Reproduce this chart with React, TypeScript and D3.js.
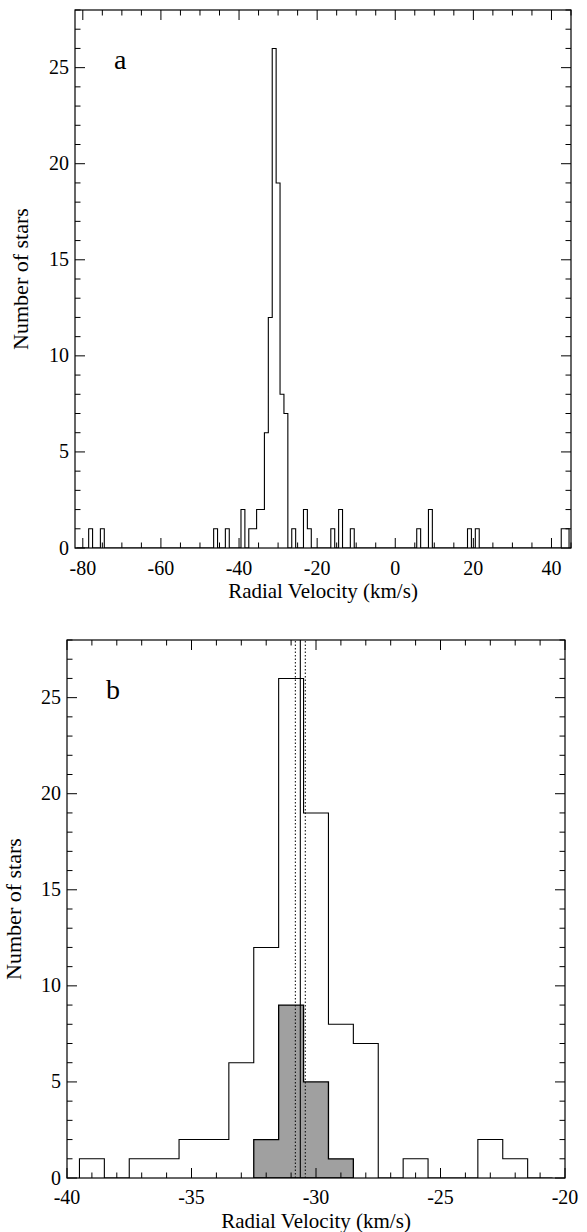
import * as d3 from "d3"

// Panel a: all stars, 1 km/s bins (bin centre -> count)
const aVelocities = [-78, -75, -46, -43, -39, -37, -36, -35, -34, -33, -32, -31, -30, -29, -28, -26, -23, -22, -16, -14, -11, 6, 9, 19, 21, 43, 44]
const aCounts = [1, 1, 1, 1, 2, 1, 1, 2, 2, 6, 12, 26, 19, 8, 7, 1, 2, 1, 1, 2, 1, 1, 2, 1, 1, 1, 1]

// Panel b: zoom on the cluster
const bVelocities = [-39, -37, -36, -35, -34, -33, -32, -31, -30, -29, -28, -26, -23, -22]
const bCounts = [1, 1, 1, 2, 2, 6, 12, 26, 19, 8, 7, 1, 2, 1]

// shaded subset
const memberVelocities = [-32, -31, -30, -29]
const memberCounts = [2, 9, 5, 1]

// mean velocity and its error
const meanVelocity = -30.63
const meanError = 0.2

const aXTicks = [-80, -60, -40, -20, 0, 20, 40]
const bXTicks = [-40, -35, -30, -25, -20]
const yTicks = [0, 5, 10, 15, 20, 25]

function stepPoints(vel: number[], counts: number[], lo: number, hi: number) {
  const pts: [number, number][] = [[lo - 0.5, 0]]
  for (let c = lo; c <= hi; c++) {
    const i = vel.indexOf(c)
    const n = i >= 0 ? counts[i] : 0
    pts.push([c - 0.5, n], [c + 0.5, n])
  }
  pts.push([hi + 0.5, 0])
  return pts
}

type PanelCfg = {
  id: string
  top: number
  left: number
  right: number
  bottom: number
  xDomain: [number, number]
  xMajor: number[]
  xMinorStep: number
  vel: number[]
  counts: number[]
  binRange: [number, number]
  letter: string
  yTitleX: number
  labelGap: number
  shaded?: boolean
}

const panels: PanelCfg[] = [
  {
    id: "a",
    top: 10,
    left: 75,
    right: 571,
    bottom: 548,
    xDomain: [-82, 45],
    xMajor: aXTicks,
    xMinorStep: 5,
    vel: aVelocities,
    counts: aCounts,
    binRange: [-81, 44],
    letter: "a",
    yTitleX: 28,
    labelGap: 27,
  },
  {
    id: "b",
    top: 640,
    left: 67,
    right: 565,
    bottom: 1178,
    xDomain: [-40, -20],
    xMajor: bXTicks,
    xMinorStep: 1,
    vel: bVelocities,
    counts: bCounts,
    binRange: [-39, -21],
    letter: "b",
    yTitleX: 21,
    labelGap: 26,
    shaded: true,
  },
]

function scales(p: PanelCfg) {
  const x = d3.scaleLinear().domain(p.xDomain).range([p.left, p.right])
  const y = d3.scaleLinear().domain([0, 28]).range([p.bottom, p.top])
  return { x, y }
}

function Marks({ p }: { p: PanelCfg }) {
  const { x, y } = scales(p)
  const clipId = "clip-" + p.id

  const line = d3
    .line<[number, number]>()
    .x((d) => x(d[0]))
    .y((d) => y(d[1]))
  const outline = line(stepPoints(p.vel, p.counts, p.binRange[0], p.binRange[1])) || ""

  const area = d3
    .area<[number, number]>()
    .x((d) => x(d[0]))
    .y0(y(0))
    .y1((d) => y(d[1]))
  const memberPts = stepPoints(memberVelocities, memberCounts, -32, -29)

  const xMinor = d3.range(
    Math.ceil(p.xDomain[0] / p.xMinorStep) * p.xMinorStep,
    p.xDomain[1] + 1e-9,
    p.xMinorStep
  )
  const yMinor = d3.range(0, 29, 1)
  const major = 10
  const minor = 5.5

  return (
    <g>
      <defs>
        <clipPath id={clipId}>
          <rect x={p.left} y={p.top} width={p.right - p.left} height={p.bottom - p.top} />
        </clipPath>
      </defs>
      <g clipPath={`url(#${clipId})`}>
        {p.shaded && (
          <path d={area(memberPts) || ""} fill="#a0a0a0" stroke="#000" strokeWidth={1.3} />
        )}
        <path d={outline} fill="none" stroke="#000" strokeWidth={1.1} />
        {p.shaded && (
          <g stroke="#000">
            <line x1={x(meanVelocity)} x2={x(meanVelocity)} y1={y(0)} y2={y(28)} strokeWidth={1.1} />
            {[meanVelocity - meanError, meanVelocity + meanError].map((v) => (
              <line
                key={v}
                x1={x(v)}
                x2={x(v)}
                y1={y(0)}
                y2={y(28)}
                strokeWidth={1}
                strokeDasharray="1.5,2"
              />
            ))}
          </g>
        )}
      </g>
      <rect
        x={p.left}
        y={p.top}
        width={p.right - p.left}
        height={p.bottom - p.top}
        fill="none"
        stroke="#000"
        strokeWidth={1.2}
      />
      <g stroke="#000" strokeWidth={1}>
        {xMinor.map((v) => {
          const len = p.xMajor.some((m) => Math.abs(m - v) < 1e-6) ? major : minor
          return (
            <g key={"x" + v}>
              <line x1={x(v)} x2={x(v)} y1={p.bottom} y2={p.bottom - len} />
              <line x1={x(v)} x2={x(v)} y1={p.top} y2={p.top + len} />
            </g>
          )
        })}
        {yMinor.map((v) => {
          const len = v % 5 === 0 ? major : minor
          return (
            <g key={"y" + v}>
              <line x1={p.left} x2={p.left + len} y1={y(v)} y2={y(v)} />
              <line x1={p.right} x2={p.right - len} y1={y(v)} y2={y(v)} />
            </g>
          )
        })}
      </g>
    </g>
  )
}

// all labels, kept as plain <text> right under the svg
function labelList() {
  const out: { key: string; x: number; y: number; s: string; size: number; anchor: string; rot?: boolean }[] = []
  panels.forEach((p) => {
    const { x, y } = scales(p)
    p.xMajor.forEach((v) =>
      out.push({ key: p.id + "x" + v, x: x(v), y: p.bottom + p.labelGap, s: String(v), size: 20, anchor: "middle" })
    )
    yTicks.forEach((v) =>
      out.push({ key: p.id + "y" + v, x: p.left - 6, y: y(v) + 6.5, s: String(v), size: 20, anchor: "end" })
    )
    out.push({ key: p.id + "xt", x: (p.left + p.right) / 2, y: p.bottom + 50, s: "Radial Velocity (km/s)", size: 21, anchor: "middle" })
    out.push({ key: p.id + "yt", x: p.yTitleX, y: (p.top + p.bottom) / 2, s: "Number of stars", size: 22, anchor: "middle", rot: true })
    out.push({ key: p.id + "l", x: p.left + 39, y: p.top + 59, s: p.letter, size: 28, anchor: "start" })
  })
  return out
}

export default function App() {
  const labels = labelList()
  return (
    <svg width={587} height={1232} style={{ position: "absolute", left: 0, top: 0, background: "#fff" }}>
      <rect width={587} height={1232} fill="#fff" />
      {panels.map((p) => (
        <Marks key={p.id} p={p} />
      ))}
      {labels.map((l) => (
        <text
          key={l.key}
          x={l.rot ? 0 : l.x}
          y={l.rot ? 0 : l.y}
          transform={l.rot ? `translate(${l.x},${l.y}) rotate(-90)` : undefined}
          textAnchor={l.anchor}
          style={{ fontFamily: "Liberation Serif", fontSize: l.size }}
        >
          {l.s}
        </text>
      ))}
    </svg>
  )
}
